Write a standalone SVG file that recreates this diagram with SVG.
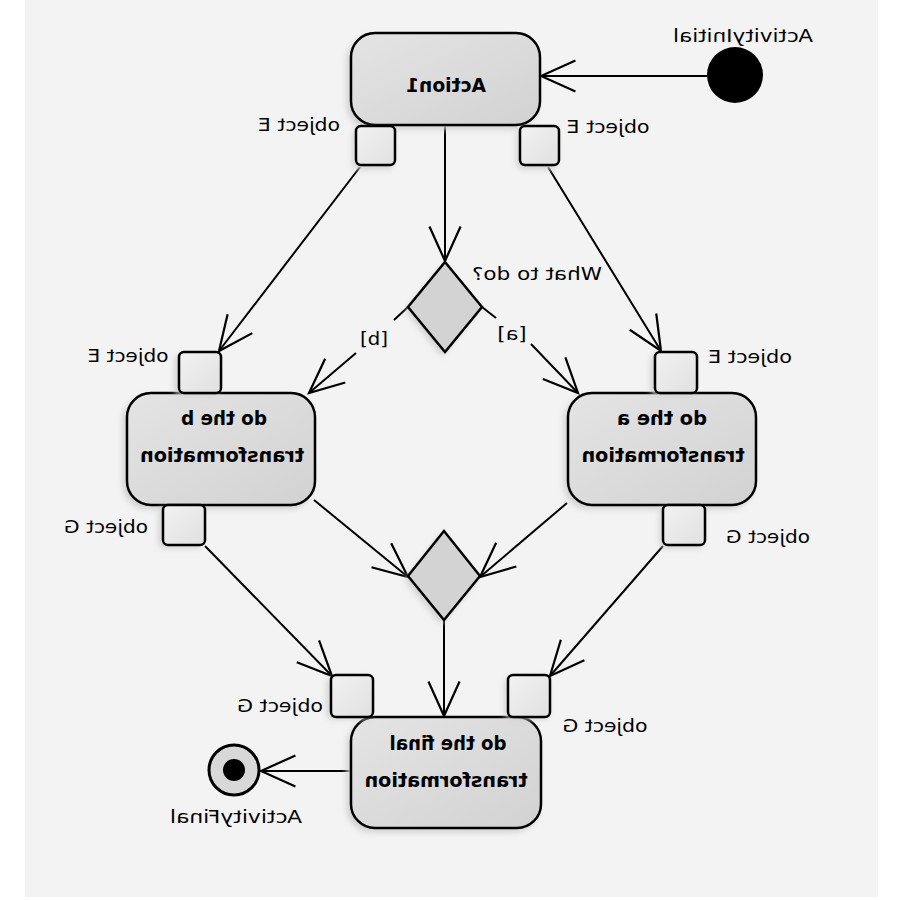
<svg xmlns="http://www.w3.org/2000/svg" width="900" height="900" viewBox="0 0 900 900">
<defs>
<style>
.node{fill:url(#ng);stroke:#000;stroke-width:2.5}
.pin{fill:url(#pg);stroke:#000;stroke-width:2.5}
.dia{fill:#d3d3d3;stroke:#000;stroke-width:2.5}
.sh{fill:#cfcfcf;filter:url(#blur)}
.edge{fill:none;stroke:#000;stroke-width:2}
.lbl{font-family:"DejaVu Sans","Liberation Sans",sans-serif;font-size:18px;fill:#000;text-anchor:middle}
.nm{font-family:"DejaVu Sans","Liberation Sans",sans-serif;font-size:19px;font-weight:bold;fill:#000;text-anchor:middle}
</style>
<linearGradient id="ng" x1="0" y1="0" x2="1" y2="1">
<stop offset="0" stop-color="#e4e4e4"/><stop offset="1" stop-color="#d2d2d2"/>
</linearGradient>
<linearGradient id="pg" x1="0" y1="0" x2="1" y2="1">
<stop offset="0" stop-color="#f2f2f2"/><stop offset="1" stop-color="#e0e0e0"/>
</linearGradient>
<filter id="blur" x="-20%" y="-20%" width="140%" height="140%"><feGaussianBlur stdDeviation="3"/></filter>
<marker id="arr" markerUnits="userSpaceOnUse" markerWidth="40" markerHeight="40" viewBox="-34 -17 36 34" refX="0" refY="0" orient="auto">
<path d="M-31,-14 L0,0 L-31,14" fill="none" stroke="#000" stroke-width="2"/>
</marker>
</defs>
<rect x="25" y="0" width="853" height="897" fill="#f3f3f3"/>

<g id="connectors">
<path class="edge" d="M707,76 L541,76" marker-end="url(#arr)"/>
<path class="edge" d="M445,125 L445,261" marker-end="url(#arr)"/>
<path class="edge" d="M360,167 L219,351" marker-end="url(#arr)"/>
<path class="edge" d="M548,167 L661,351" marker-end="url(#arr)"/>
<path class="edge" d="M408,307 L394,320 M356,353 L309,393" marker-end="url(#arr)"/>
<path class="edge" d="M482,307 L496,318 M531,344 L578,393" marker-end="url(#arr)"/>
<path class="edge" d="M314,500 L408,577" marker-end="url(#arr)"/>
<path class="edge" d="M567,503 L480,577" marker-end="url(#arr)"/>
<path class="edge" d="M444,620 L444,716" marker-end="url(#arr)"/>
<path class="edge" d="M205,546 L332,676" marker-end="url(#arr)"/>
<path class="edge" d="M663,546 L550,676" marker-end="url(#arr)"/>
<path class="edge" d="M351,771 L261,771" marker-end="url(#arr)"/>
</g>

<g id="initial">
<circle cx="735" cy="75" r="28" fill="#000"/>
<text class="lbl" transform="translate(743,42) scale(-1,1)" x="0" y="0" textLength="140" lengthAdjust="spacingAndGlyphs">ActivityInitial</text>
</g>

<g id="action1">
<rect class="sh" x="347" y="37" width="190" height="92" rx="24"/>
<rect class="node" x="351" y="33" width="189" height="92" rx="24"/>
<rect class="sh" x="353" y="129" width="40" height="40" rx="5"/>
<rect class="pin" x="356" y="126" width="39" height="39" rx="5"/>
<rect class="sh" x="517" y="129" width="40" height="40" rx="5"/>
<rect class="pin" x="520" y="126" width="39" height="39" rx="5"/>
<text class="nm" transform="translate(446,92) scale(-1,1)" x="0" y="0" textLength="80" lengthAdjust="spacingAndGlyphs">Action1</text>
<text class="lbl" transform="translate(299,131) scale(-1,1)" x="0" y="0" textLength="82" lengthAdjust="spacingAndGlyphs">object E</text>
<text class="lbl" transform="translate(608,133) scale(-1,1)" x="0" y="0" textLength="83" lengthAdjust="spacingAndGlyphs">object E</text>
</g>

<g id="decision">
<polygon class="sh" points="442,266 478,311 442,356 406,311"/>
<polygon class="dia" points="445,262 482,307 445,352 408,307"/>
<text class="lbl" transform="translate(537,280) scale(-1,1)" x="0" y="0" textLength="130" lengthAdjust="spacingAndGlyphs">What to do?</text>
<text class="lbl" transform="translate(374,345) scale(-1,1)" x="0" y="0" textLength="28" lengthAdjust="spacingAndGlyphs">[b]</text>
<text class="lbl" transform="translate(512,340) scale(-1,1)" x="0" y="0" textLength="29" lengthAdjust="spacingAndGlyphs">[a]</text>
</g>

<g id="nodeB">
<rect class="sh" x="123" y="397" width="189" height="112" rx="24"/>
<rect class="node" x="127" y="393" width="188" height="112" rx="24"/>
<rect class="sh" x="175" y="355" width="43" height="40" rx="5"/>
<rect class="pin" x="179" y="352" width="42" height="41" rx="5"/>
<rect class="sh" x="159" y="508" width="43" height="40" rx="5"/>
<rect class="pin" x="163" y="505" width="42" height="40" rx="5"/>
<text class="nm" transform="translate(224,425) scale(-1,1)" x="0" y="0" textLength="86" lengthAdjust="spacingAndGlyphs">do the b</text>
<text class="nm" transform="translate(222,462) scale(-1,1)" x="0" y="0" textLength="164" lengthAdjust="spacingAndGlyphs">transformation</text>
<text class="lbl" transform="translate(128,362) scale(-1,1)" x="0" y="0" textLength="81" lengthAdjust="spacingAndGlyphs">object E</text>
<text class="lbl" transform="translate(106,533) scale(-1,1)" x="0" y="0" textLength="84" lengthAdjust="spacingAndGlyphs">object G</text>
</g>

<g id="nodeA">
<rect class="sh" x="564" y="397" width="189" height="112" rx="24"/>
<rect class="node" x="568" y="393" width="188" height="112" rx="24"/>
<rect class="sh" x="651" y="355" width="43" height="40" rx="5"/>
<rect class="pin" x="655" y="352" width="42" height="41" rx="5"/>
<rect class="sh" x="660" y="508" width="43" height="40" rx="5"/>
<rect class="pin" x="663" y="505" width="42" height="40" rx="5"/>
<text class="nm" transform="translate(662,425) scale(-1,1)" x="0" y="0" textLength="90" lengthAdjust="spacingAndGlyphs">do the a</text>
<text class="nm" transform="translate(663,462) scale(-1,1)" x="0" y="0" textLength="163" lengthAdjust="spacingAndGlyphs">transformation</text>
<text class="lbl" transform="translate(750,363) scale(-1,1)" x="0" y="0" textLength="84" lengthAdjust="spacingAndGlyphs">object E</text>
<text class="lbl" transform="translate(768,543) scale(-1,1)" x="0" y="0" textLength="84" lengthAdjust="spacingAndGlyphs">object G</text>
</g>

<g id="merge">
<polygon class="sh" points="441,535 477,580 441,624 405,580"/>
<polygon class="dia" points="444,531 480,576 444,620 408,576"/>
</g>

<g id="nodeFinal">
<rect class="sh" x="347" y="721" width="191" height="111" rx="24"/>
<rect class="node" x="351" y="717" width="190" height="111" rx="24"/>
<rect class="sh" x="327" y="678" width="43" height="41" rx="5"/>
<rect class="pin" x="331" y="675" width="42" height="42" rx="5"/>
<rect class="sh" x="505" y="678" width="43" height="41" rx="5"/>
<rect class="pin" x="508" y="675" width="42" height="42" rx="5"/>
<text class="nm" transform="translate(448,750) scale(-1,1)" x="0" y="0" textLength="117" lengthAdjust="spacingAndGlyphs">do the final</text>
<text class="nm" transform="translate(446,787) scale(-1,1)" x="0" y="0" textLength="163" lengthAdjust="spacingAndGlyphs">transformation</text>
<text class="lbl" transform="translate(280,712) scale(-1,1)" x="0" y="0" textLength="86" lengthAdjust="spacingAndGlyphs">object G</text>
<text class="lbl" transform="translate(605,732) scale(-1,1)" x="0" y="0" textLength="85" lengthAdjust="spacingAndGlyphs">object G</text>
</g>

<g id="final">
<circle cx="234" cy="770" r="25" fill="#d8d8d8" stroke="#000" stroke-width="3"/>
<circle cx="234" cy="770" r="11" fill="#000"/>
<text class="lbl" transform="translate(236,823) scale(-1,1)" x="0" y="0" textLength="132" lengthAdjust="spacingAndGlyphs">ActivityFinal</text>
</g>
</svg>
